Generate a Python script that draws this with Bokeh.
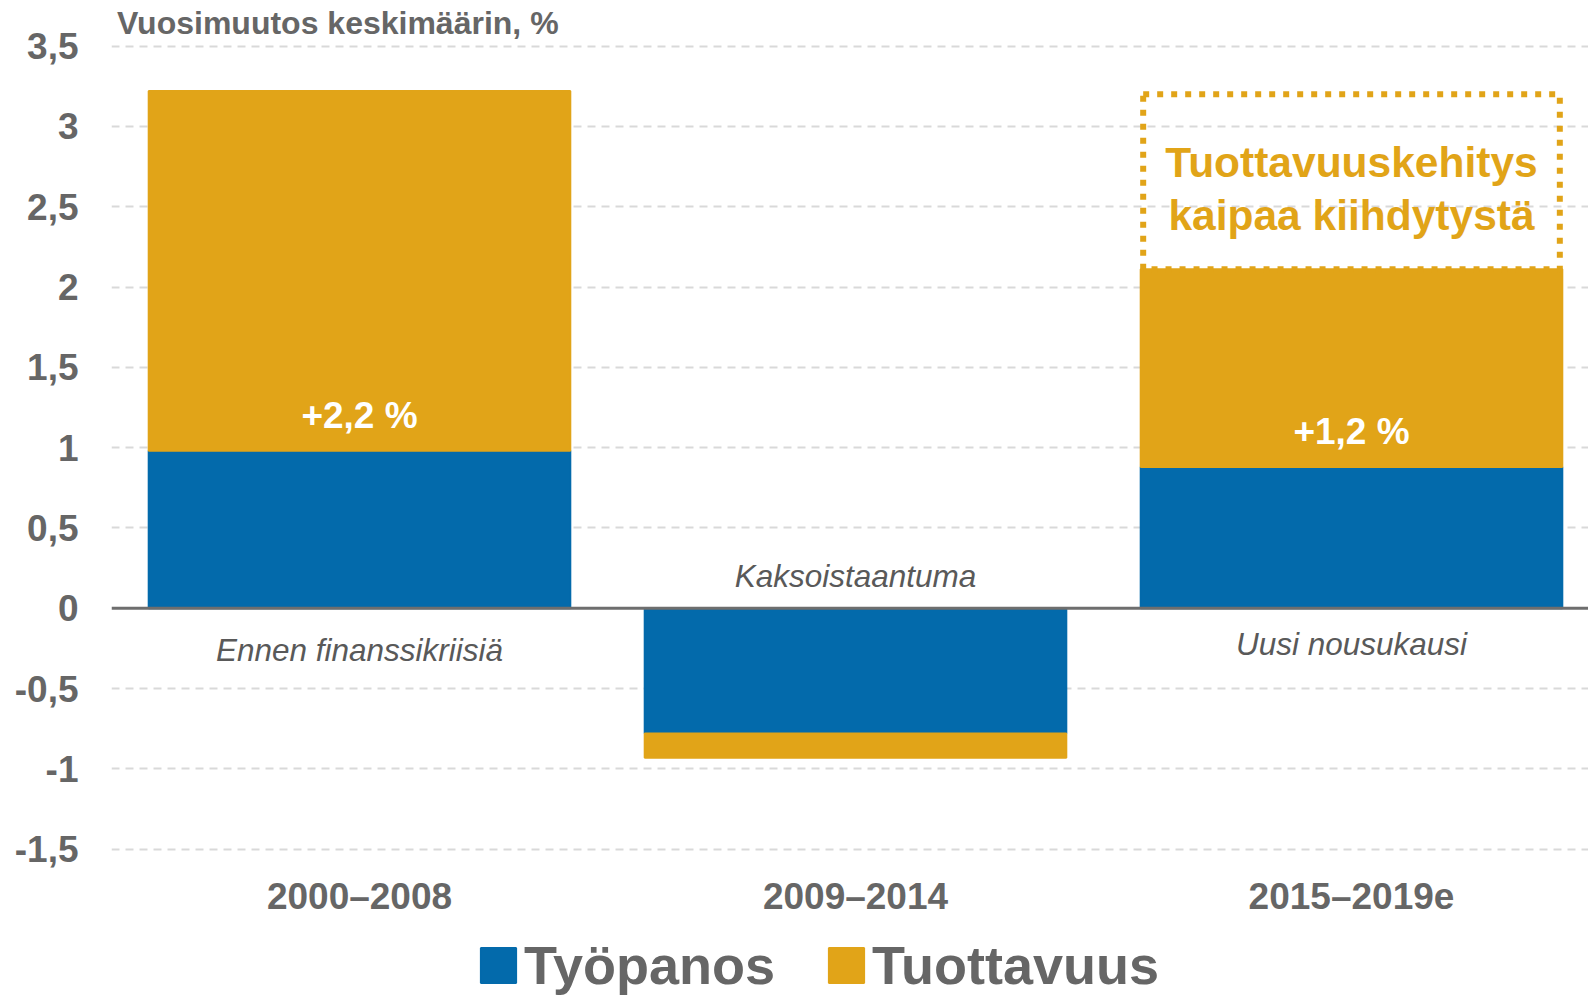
from bokeh.plotting import figure
from bokeh.models import Range1d, FixedTicker, Span, Legend, LegendItem, ColumnDataSource
from bokeh.embed import file_html
from bokeh.resources import INLINE
from bokeh.core.properties import value

# ---------------- data ----------------
periods = ["2000–2008", "2009–2014", "2015–2019e"]
tyopanos = [0.98, -0.78, 0.88]
tuottavuus = [2.24, -0.15, 1.23]
value_labels = ["+2,2 %", "", "+1,2 %"]
phase_labels = ["Ennen finanssikriisiä", "Kaksoistaantuma", "Uusi nousukausi"]
y_ticks = [-1.5, -1, -0.5, 0, 0.5, 1, 1.5, 2, 2.5, 3, 3.5]
y_tick_labels = ["-1,5", "-1", "-0,5", "0", "0,5", "1", "1,5", "2", "2,5", "3", "3,5"]
y_title = "Vuosimuutos keskimäärin, %"
callout_lines = ["Tuottavuuskehitys", "kaipaa kiihdytystä"]
callout_top = 3.2
series_names = ["Työpanos", "Tuottavuus"]

# ---------------- styling / layout ----------------
BLUE = "#036AAB"
GOLD = "#E1A418"
GREY = "#666666"
FONT = "Liberation Sans"
W, H = 1588, 997
LEFT = 111
PX_PER_X = 496.0
PX_PER_Y = 160.6
x_end = -0.5 + (W - LEFT) / PX_PER_X
y_end = 3.5 + 45.6 / PX_PER_Y
y_start = -1.5 - (H - 848.7) / PX_PER_Y

xs = list(range(len(periods)))
top1 = [t for t in tyopanos]
top2 = [a + b for a, b in zip(tyopanos, tuottavuus)]
src = ColumnDataSource(dict(x=xs, b1=[0] * len(xs), t1=top1, b2=top1, t2=top2))

p = figure(width=W, height=H, x_range=Range1d(-0.5, x_end), y_range=Range1d(y_start, y_end),
           output_backend="svg", toolbar_location=None, x_axis_location=None,
           min_border_left=LEFT, min_border_right=0, min_border_top=0, min_border_bottom=0)
p.outline_line_color = None
p.background_fill_color = "white"

# grid
p.xgrid.visible = False
p.ygrid.ticker = FixedTicker(ticks=[t for t in y_ticks if t != 0])
p.ygrid.grid_line_color = "#D9D9D9"
p.ygrid.grid_line_width = 2
p.ygrid.grid_line_dash = "8 6"

# bars
r1 = p.vbar(x="x", bottom="b1", top="t1", width=0.85, source=src,
            fill_color=BLUE, line_color=BLUE, line_width=2)
r2 = p.vbar(x="x", bottom="b2", top="t2", width=0.85, source=src,
            fill_color=GOLD, line_color=GOLD, line_width=2)

# zero line
p.add_layout(Span(location=0, dimension="width", line_color="#6E6E6E", line_width=3))

# value labels inside gold segments
vl_x = [x for x, s in zip(xs, value_labels) if s]
vl_y = [t + 0.22 for t, s in zip(tyopanos, value_labels) if s]
vl_t = [s for s in value_labels if s]
p.text(x=vl_x, y=vl_y, text=vl_t, text_align="center", text_baseline="middle",
       text_color="white", text_font=value(FONT), text_font_style="bold",
       text_font_size="37px")

# phase labels
phase_y = [-0.26, 0.2, -0.22]
p.text(x=xs, y=phase_y, text=phase_labels, text_align="center", text_baseline="middle",
       text_color="#595959", text_font=value(FONT), text_font_style="italic",
       text_font_size="31.5px")

# callout box
p.quad(left=[xs[2] - 0.42], right=[xs[2] + 0.42], bottom=[top2[2]], top=[callout_top],
       fill_color=None, line_color=GOLD, line_width=6, line_dash="6 8")
p.text(x=[xs[2], xs[2]], y=[2.775, 2.444], text=callout_lines, text_align="center",
       text_baseline="middle", text_color=GOLD, text_font=value(FONT),
       text_font_style="bold", text_font_size="42.5px")

# y title
p.text(x=[-0.489], y=[3.645], text=[y_title], text_align="left", text_baseline="middle",
       text_color=GREY, text_font=value(FONT), text_font_style="bold", text_font_size="32px")

# category labels (x axis)
p.text(x=xs, y=[-1.7945] * len(xs), text=periods, text_align="center", text_baseline="middle",
       text_color=GREY, text_font=value(FONT), text_font_style="bold", text_font_size="37px")

# y axis
p.yaxis.ticker = FixedTicker(ticks=y_ticks)
p.yaxis.major_label_overrides = {t: l for t, l in zip(y_ticks, y_tick_labels)}
p.yaxis.axis_line_color = None
p.yaxis.major_tick_line_color = None
p.yaxis.minor_tick_line_color = None
p.yaxis.major_label_standoff = 27
p.yaxis.major_label_text_font = FONT
p.yaxis.major_label_text_font_style = "bold"
p.yaxis.major_label_text_font_size = "37px"
p.yaxis.major_label_text_color = GREY

# legend (screen offsets from the frame's bottom-left)
legend = Legend(items=[LegendItem(label=series_names[0], renderers=[r1]),
                       LegendItem(label=series_names[1], renderers=[r2])],
                orientation="horizontal", location=(365, 1),
                glyph_width=44, glyph_height=44, label_standoff=4, spacing=49,
                label_text_font=FONT, label_text_font_style="bold",
                label_text_font_size="54px", label_text_color=GREY,
                border_line_color=None, background_fill_alpha=0, padding=0, margin=0)
p.add_layout(legend)

open("out.html", "w").write(file_html(p, INLINE))
